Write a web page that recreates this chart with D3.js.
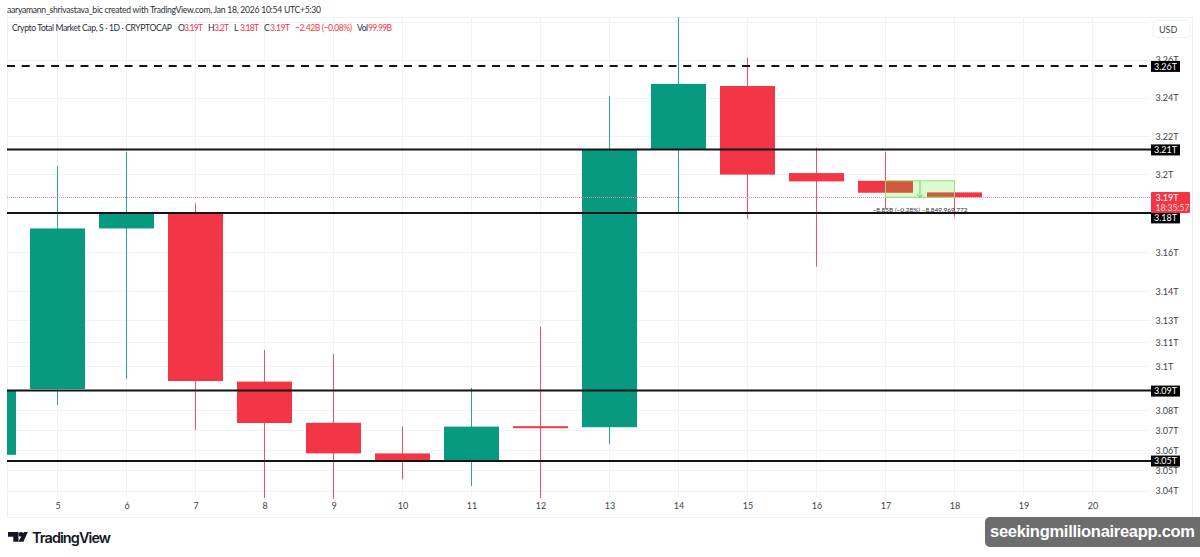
<!DOCTYPE html>
<html>
<head>
<meta charset="utf-8">
<script src="https://cdn.jsdelivr.net/npm/d3@7"></script>
<style>
    html, body { margin: 0; padding: 0; background: #fff; }
    svg { display: block; }
    text { font-family: Lato, sans-serif; }
</style>
</head>
<body>
<svg></svg>
<script>
// Candles, values in trillions of USD
const days   = [4, 5, 6, 7, 8, 9, 10, 11, 12, 13, 14, 15, 16, 17, 18];
const opens  = [3.0579, 3.0907, 3.1722, 3.1802, 3.0944, 3.0738, 3.0586, 3.0552, 3.0721, 3.0716, 3.2132, 3.2463, 3.2008, 3.1968, 3.1908];
const highs  = [3.0902, 3.2045, 3.2119, 3.1851, 3.1103, 3.1083, 3.0719, 3.0912, 3.1221, 3.2411, 3.2828, 3.2612, 3.2140, 3.2119, 3.1908];
const lows   = [3.0579, 3.0827, 3.0957, 3.0702, 3.0365, 3.0361, 3.0458, 3.0425, 3.0365, 3.0633, 3.1803, 3.1771, 3.1526, 3.1822, 3.1782];
const closes = [3.0902, 3.1722, 3.1802, 3.0947, 3.0737, 3.0586, 3.0552, 3.0719, 3.0711, 3.2128, 3.2474, 3.2000, 3.1965, 3.1906, 3.1883];

const timeTicks = [5, 6, 7, 8, 9, 10, 11, 12, 13, 14, 15, 16, 17, 18, 19, 20];

// Price axis ticks, the labels are the rounded values TradingView shows
const priceTicks  = [3.26, 3.24, 3.22, 3.2, 3.16, 3.14, 3.125, 3.114, 3.102, 3.08, 3.07, 3.06, 3.05, 3.04];
const priceLabels = ['3.26T', '3.24T', '3.22T', '3.2T', '3.16T', '3.14T', '3.13T', '3.11T', '3.1T', '3.08T', '3.07T', '3.06T', '3.05T', '3.04T'];
// These have a grid line but their label sits behind a box or the USD button
const gridOnly = [3.28, 3.18, 3.09];

// Horizontal levels drawn on the chart
const levelValues = [3.2569, 3.2131, 3.1802, 3.0899, 3.0548];
const levelLabels = ['3.26T', '3.21T', '3.18T', '3.09T', '3.05T'];
const levelDashed = [true, false, false, false, false];

const lastPrice = 3.1884;

// Short position tool between the 17 and 18 candles
const toolDays = [17, 18];
const toolPrices = [3.1968, 3.1883];

const green = '#089981';
const red = '#f23645';
const textColour = '#3b3f4a';

const svg = d3.select('svg')
    .attr('width', 1200)
    .attr('height', 557);

const x = d3.scaleLinear().domain([5, 20]).range([57.5, 1092.5]);
const y = d3.scaleLog().domain([3.04, 3.24]).range([491, 98]);

svg.append('clipPath')
    .attr('id', 'pane')
    .append('rect')
    .attr('x', 7)
    .attr('y', 17)
    .attr('width', 1143)
    .attr('height', 483);

// Outer frame
svg.append('rect')
    .attr('x', 7.5)
    .attr('y', 17.5)
    .attr('width', 1185)
    .attr('height', 500)
    .attr('fill', 'none')
    .attr('stroke', '#eeeff2');

// Grid
const grid = svg.append('g')
    .attr('stroke', '#f1f2f5')
    .attr('shape-rendering', 'crispEdges');

grid.selectAll('.v')
    .data(timeTicks)
    .join('line')
    .attr('x1', d => x(d))
    .attr('x2', d => x(d))
    .attr('y1', 17)
    .attr('y2', 497);

grid.selectAll('.h')
    .data(priceTicks.concat(gridOnly))
    .join('line')
    .attr('x1', 7)
    .attr('x2', 1150)
    .attr('y1', d => y(d))
    .attr('y2', d => y(d));

// Axes
const timeAxis = svg.append('g')
    .attr('transform', 'translate(0,500)')
    .call(d3.axisBottom(x).tickValues(timeTicks).tickFormat(d3.format('d')).tickSize(0).tickPadding(3));

const priceAxis = svg.append('g')
    .attr('transform', 'translate(1155.5,0)')
    .call(d3.axisRight(y)
        .tickValues(priceTicks)
        .tickFormat((d, i) => priceLabels[i])
        .tickSize(0)
        .tickPadding(0));

[timeAxis, priceAxis].forEach(axis => {
    axis.select('.domain').remove();
    axis.selectAll('text')
        .attr('fill', textColour)
        .style('font-family', 'Lato, sans-serif')
        .style('font-size', '9px');
});

// Candles
const candles = svg.append('g').attr('clip-path', 'url(#pane)');

candles.selectAll('line')
    .data(days)
    .join('line')
    .attr('x1', d => x(d))
    .attr('x2', d => x(d))
    .attr('y1', (d, i) => y(highs[i]))
    .attr('y2', (d, i) => y(lows[i]))
    .attr('stroke', (d, i) => closes[i] >= opens[i] ? green : red)
    .attr('stroke-opacity', 0.85)
    .attr('stroke-width', 1);

candles.selectAll('rect')
    .data(days)
    .join('rect')
    .attr('x', d => x(d) - 27.5)
    .attr('width', 55)
    .attr('y', (d, i) => y(Math.max(opens[i], closes[i])))
    .attr('height', (d, i) => Math.abs(y(opens[i]) - y(closes[i])))
    .attr('fill', (d, i) => closes[i] >= opens[i] ? green : red);

// Current price line
svg.append('line')
    .attr('x1', 7)
    .attr('x2', 1150)
    .attr('y1', y(lastPrice))
    .attr('y2', y(lastPrice))
    .attr('stroke', '#f58a96')
    .attr('shape-rendering', 'crispEdges')
    .attr('stroke-dasharray', '1,1');

// Position tool
const tool = svg.append('g');

tool.append('rect')
    .attr('x', x(toolDays[0]))
    .attr('y', y(toolPrices[0]))
    .attr('width', x(toolDays[1]) - x(toolDays[0]))
    .attr('height', y(toolPrices[1]) - y(toolPrices[0]))
    .attr('fill', 'rgba(80,230,30,0.2)')
    .attr('stroke', '#8fe37a');

const toolMid = (x(toolDays[0]) + x(toolDays[1])) / 2;

tool.append('path')
    .attr('d', d3.line()([
        [toolMid, y(toolPrices[0])],
        [toolMid, y(toolPrices[1])],
        [toolMid - 3, y(toolPrices[1]) - 3],
        [toolMid, y(toolPrices[1])],
        [toolMid + 3, y(toolPrices[1]) - 3]
    ]))
    .attr('fill', 'none')
    .attr('stroke', '#6fd35c');

tool.append('text')
    .attr('x', toolMid)
    .attr('y', y(toolPrices[1]) + 15)
    .attr('text-anchor', 'middle')
    .attr('font-size', 6.5)
    .attr('textLength', 95)
    .attr('fill', '#2a2e39')
    .text('−8.85B (−0.28%) −8,849,969,772');

// Levels
svg.append('g')
    .selectAll('line')
    .data(levelValues)
    .join('line')
    .attr('x1', 7)
    .attr('x2', 1151)
    .attr('y1', d => y(d))
    .attr('y2', d => y(d))
    .attr('stroke', '#131313')
    .attr('stroke-width', 2)
    .attr('stroke-dasharray', (d, i) => levelDashed[i] ? '8,6.7' : null);

// Level labels, the 3.18T one is pushed down by the current price box
const boxOffset = [0.5, 0.5, 5, 0.5, 0];
const boxes = svg.append('g');

boxes.selectAll('rect')
    .data(levelValues)
    .join('rect')
    .attr('x', 1151)
    .attr('y', (d, i) => y(d) + boxOffset[i] - 5.5)
    .attr('width', 29)
    .attr('height', 11)
    .attr('fill', '#000');

boxes.selectAll('text')
    .data(levelValues)
    .join('text')
    .attr('x', 1165.5)
    .attr('y', (d, i) => y(d) + boxOffset[i] + 3.3)
    .attr('text-anchor', 'middle')
    .attr('font-size', 9)
    .attr('fill', '#fff')
    .text((d, i) => levelLabels[i]);

// Current price box
const lastY = y(lastPrice);

svg.append('rect')
    .attr('x', 1151)
    .attr('y', lastY - 5)
    .attr('width', 39)
    .attr('height', 21)
    .attr('rx', 1)
    .attr('fill', red);

svg.append('text')
    .attr('x', 1155.5)
    .attr('y', lastY + 3.5)
    .attr('font-size', 9)
    .attr('fill', '#fff')
    .text('3.19T');

svg.append('text')
    .attr('x', 1155.5)
    .attr('y', lastY + 13.5)
    .attr('font-size', 8.5)
    .attr('fill', '#ffd9dd')
    .text('18:35:57');

// USD button
svg.append('rect')
    .attr('x', 1153)
    .attr('y', 20.5)
    .attr('width', 37)
    .attr('height', 17)
    .attr('rx', 3)
    .attr('fill', '#fff')
    .attr('stroke', '#f0f1f4');

svg.append('text')
    .attr('x', 1159)
    .attr('y', 32.5)
    .attr('font-size', 9)
    .attr('fill', textColour)
    .text('USD');

// Header texts
svg.append('text')
    .attr('x', 7)
    .attr('y', 13)
    .attr('font-size', 8.6)
    .attr('textLength', 314)
    .attr('fill', '#2a2e39')
    .text('aaryamann_shrivastava_bic created with TradingView.com, Jan 18, 2026 10:54 UTC+5:30');

const legendTexts  = ['Crypto Total Market Cap, S · 1D · CRYPTOCAP', 'O', '3.19T', 'H', '3.2T', 'L', '3.18T', 'C', '3.19T', '−2.42B (−0.08%)', 'Vol', '99.99B'];
const legendStarts = [12, 178, 184, 208, 214, 234, 240, 264, 270, 295, 357, 368];
const legendWidths = [160, 6, 19, 6, 15, 5, 19, 6, 20, 57, 11, 24];
const legendRed    = [false, false, true, false, true, false, true, false, true, true, false, true];

svg.append('g')
    .selectAll('text')
    .data(legendTexts)
    .join('text')
    .attr('x', (d, i) => legendStarts[i])
    .attr('y', 31)
    .attr('font-size', 8.6)
    .attr('textLength', (d, i) => legendWidths[i])
    .attr('fill', (d, i) => legendRed[i] ? red : '#2a2e39')
    .text(d => d);

// TradingView logo
const logo = svg.append('g').attr('fill', '#131722');

logo.append('path').attr('d', 'M8 532h10.5v9.7h-5.2v-5H8z');
logo.append('circle').attr('cx', 21).attr('cy', 534.4).attr('r', 2.4);
logo.append('path').attr('d', 'M24 532h3.8l-4.4 9.7h-5.2z');

svg.append('text')
    .attr('x', 32)
    .attr('y', 543)
    .attr('font-size', 14.5)
    .attr('font-weight', 600)
    .attr('textLength', 79)
    .attr('fill', '#131722')
    .style('font-family', 'Inter, sans-serif')
    .text('TradingView');

// Watermark
svg.append('rect')
    .attr('x', 985)
    .attr('y', 517)
    .attr('width', 225)
    .attr('height', 30)
    .attr('rx', 5)
    .attr('fill', '#6d6d6d');

svg.append('text')
    .attr('x', 990)
    .attr('y', 537)
    .attr('font-size', 16.5)
    .attr('font-weight', 700)
    .attr('textLength', 205)
    .attr('fill', '#fff')
    .style('font-family', '"Liberation Sans", sans-serif')
    .text('seekingmillionaireapp.com');
</script>
</body>
</html>
